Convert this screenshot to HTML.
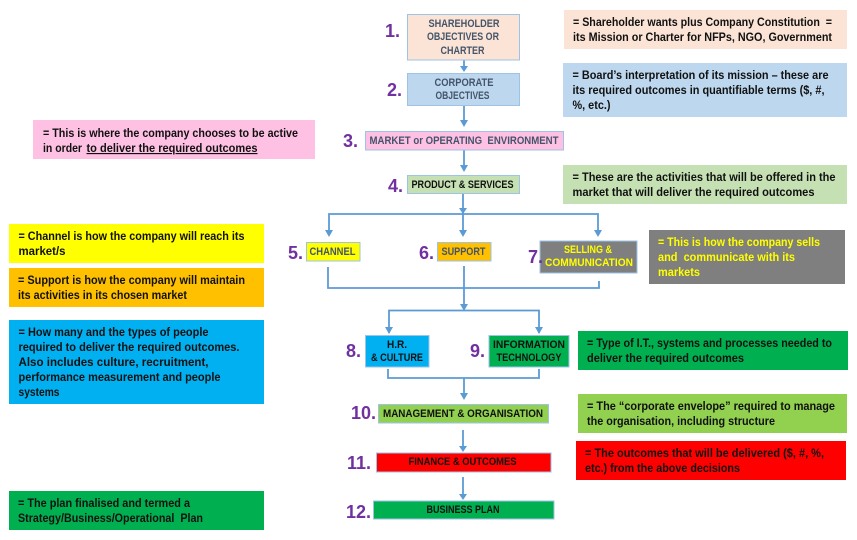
<!DOCTYPE html>
<html>
<head>
<meta charset="utf-8">
<style>
html,body{margin:0;padding:0;background:#fff;width:857px;height:540px;overflow:hidden}
svg{display:block;position:absolute;left:0;top:0;filter:blur(.3px)}
text{font-family:"Liberation Sans",sans-serif;font-weight:700}
.n text{font-size:11.5px;fill:#111}
.b text{font-size:11px;fill:#44546a}
.d text{font-size:11px;fill:#111}
.num text{font-size:18px;fill:#7030a0}
.n.y text,.b.y text{fill:#ffff00}
.c{fill:none;stroke:#5b9bd5;stroke-width:1.8}
.a{fill:#5b9bd5}
</style>
</head>
<body>
<svg width="857" height="540" viewBox="0 0 857 540" xmlns="http://www.w3.org/2000/svg">
<rect width="857" height="540" fill="#fff"/>

<!-- connectors -->
<g class="c">
<path d="M464 60V67M464 105V122M464 150V167"/>
<path d="M463 193V231M329 231V214H598V231"/>
<path d="M328 267V288H599V281M464 266V305"/>
<path d="M389 333V310.500H539V333"/>
<path d="M388 369V378H539V369M464 378V394"/>
<path d="M463 430V447M463 477V495"/>
</g>
<g class="a">
<polygon points="460,66 468,66 464,72"/>
<polygon points="460,120 468,120 464,127"/>
<polygon points="460,165 468,165 464,172"/>
<polygon points="459,208 467,208 463,214"/>
<polygon points="325,230 333,230 329,237"/>
<polygon points="459,230 467,230 463,237"/>
<polygon points="594,230 602,230 598,237"/>
<polygon points="460,304 468,304 464,311"/>
<polygon points="385,327 393,327 389,334"/>
<polygon points="535,327 543,327 539,334"/>
<polygon points="460,393 468,393 464,400"/>
<polygon points="459,446 467,446 463,452"/>
<polygon points="459,494 467,494 463,500"/>
</g>

<!-- flow boxes -->
<g stroke="#9dc3e6" stroke-width="1">
<rect x="407.500" y="14.500" width="112" height="45.500" fill="#fbe4d5"/>
<rect x="407.500" y="73.500" width="112" height="32" fill="#bdd7ee"/>
<rect x="365.500" y="131.500" width="198" height="18.500" fill="#ffc1e3"/>
<rect x="407.500" y="175.500" width="112" height="18" fill="#c5e0b3"/>
<rect x="306.500" y="242.500" width="53.500" height="18.500" fill="#ffff00"/>
<rect x="437.500" y="242.500" width="53.500" height="18.500" fill="#ffc000"/>
<rect x="540" y="241" width="97" height="32" fill="#7f7f7f"/>
<rect x="365.500" y="335.500" width="63.500" height="31.500" fill="#00b0f0"/>
<rect x="489" y="335.500" width="80" height="31.500" fill="#00b050"/>
<rect x="378.500" y="404.500" width="170" height="18.500" fill="#92d050"/>
<rect x="376.500" y="453" width="174.500" height="19" fill="#ff0000"/>
<rect x="373.500" y="501" width="180.500" height="18" fill="#00b050"/>
</g>

<!-- note boxes -->
<g stroke-width="1">
<rect x="564" y="10" width="283" height="39" fill="#fbe4d5"/>
<rect x="563" y="63" width="284" height="54" fill="#bdd7ee"/>
<rect x="563" y="165" width="284" height="39" fill="#c5e0b3"/>
<rect x="649" y="230" width="196" height="54" fill="#7f7f7f"/>
<rect x="578" y="331" width="270" height="39" fill="#00b050"/>
<rect x="578" y="394" width="269" height="39" fill="#92d050"/>
<rect x="576" y="441" width="270" height="39" fill="#ff0000"/>
<rect x="33" y="120" width="282" height="39" fill="#ffc1e3"/>
<rect x="9" y="224" width="255" height="39" fill="#ffff00"/>
<rect x="9" y="268" width="255" height="39" fill="#ffc000"/>
<rect x="9" y="320" width="255" height="84" fill="#00b0f0"/>
<rect x="9" y="491" width="255" height="39" fill="#00b050"/>
</g>

<!-- box labels -->
<g class="b">
<text x="428.500" y="27" textLength="71" lengthAdjust="spacingAndGlyphs">SHAREHOLDER</text>
<text x="427" y="40" textLength="72" lengthAdjust="spacingAndGlyphs">OBJECTIVES OR</text>
<text x="440.500" y="54" textLength="44" lengthAdjust="spacingAndGlyphs">CHARTER</text>
<text x="434.500" y="86" textLength="59" lengthAdjust="spacingAndGlyphs">CORPORATE</text>
<text x="435.500" y="99" textLength="54" lengthAdjust="spacingAndGlyphs">OBJECTIVES</text>
<text x="369.500" y="144" textLength="189" lengthAdjust="spacingAndGlyphs" xml:space="preserve">MARKET or OPERATING  ENVIRONMENT</text>
<text x="309.500" y="255" textLength="46" lengthAdjust="spacingAndGlyphs">CHANNEL</text>
<text x="441.500" y="255" textLength="44" lengthAdjust="spacingAndGlyphs">SUPPORT</text>
</g>
<g class="b y">
<text x="564" y="253" textLength="48" lengthAdjust="spacingAndGlyphs">SELLING &amp;</text>
<text x="545" y="266" textLength="88" lengthAdjust="spacingAndGlyphs">COMMUNICATION</text>
</g>
<g class="d">
<text x="411.500" y="188" textLength="102" lengthAdjust="spacingAndGlyphs">PRODUCT &amp; SERVICES</text>
<text x="387" y="348" textLength="20" lengthAdjust="spacingAndGlyphs">H.R.</text>
<text x="371" y="361" textLength="52" lengthAdjust="spacingAndGlyphs">&amp; CULTURE</text>
<text x="493" y="348" textLength="72" lengthAdjust="spacingAndGlyphs">INFORMATION</text>
<text x="496.500" y="361" textLength="65" lengthAdjust="spacingAndGlyphs">TECHNOLOGY</text>
<text x="383" y="417" textLength="160" lengthAdjust="spacingAndGlyphs">MANAGEMENT &amp; ORGANISATION</text>
<text x="408.500" y="465" textLength="108" lengthAdjust="spacingAndGlyphs">FINANCE &amp; OUTCOMES</text>
<text x="426.500" y="513" textLength="73" lengthAdjust="spacingAndGlyphs">BUSINESS PLAN</text>
</g>

<!-- numbers -->
<g class="num">
<text x="385" y="37">1.</text>
<text x="387" y="96">2.</text>
<text x="343" y="147">3.</text>
<text x="388" y="192">4.</text>
<text x="288" y="259">5.</text>
<text x="419" y="259">6.</text>
<text x="528" y="263">7.</text>
<text x="346" y="357">8.</text>
<text x="470" y="357">9.</text>
<text x="351" y="419">10.</text>
<text x="347" y="469">11.</text>
<text x="346" y="518">12.</text>
</g>

<!-- note text -->
<g class="n">
<text x="573" y="26" textLength="259" lengthAdjust="spacingAndGlyphs" xml:space="preserve">= Shareholder wants plus Company Constitution  =</text>
<text x="573" y="41" textLength="259" lengthAdjust="spacingAndGlyphs">its Mission or Charter for NFPs, NGO, Government</text>
<text x="572.500" y="79" textLength="256" lengthAdjust="spacingAndGlyphs">= Board’s interpretation of its mission – these are</text>
<text x="572.500" y="94" textLength="252" lengthAdjust="spacingAndGlyphs">its required outcomes in quantifiable terms ($, #,</text>
<text x="572.500" y="109" textLength="38" lengthAdjust="spacingAndGlyphs">%, etc.)</text>
<text x="572.500" y="181" textLength="263" lengthAdjust="spacingAndGlyphs">= These are the activities that will be offered in the</text>
<text x="572.500" y="196" textLength="242" lengthAdjust="spacingAndGlyphs">market that will deliver the required outcomes</text>
<text x="587" y="347" textLength="245" lengthAdjust="spacingAndGlyphs">= Type of I.T., systems and processes needed to</text>
<text x="587" y="362" textLength="157" lengthAdjust="spacingAndGlyphs">deliver the required outcomes</text>
<text x="587" y="410" textLength="248" lengthAdjust="spacingAndGlyphs">= The “corporate envelope” required to manage</text>
<text x="587" y="425" textLength="188" lengthAdjust="spacingAndGlyphs">the organisation, including structure</text>
<text x="585" y="457" textLength="239" lengthAdjust="spacingAndGlyphs">= The outcomes that will be delivered ($, #, %,</text>
<text x="585" y="472" textLength="155" lengthAdjust="spacingAndGlyphs">etc.) from the above decisions</text>
<text x="43" y="137" textLength="255" lengthAdjust="spacingAndGlyphs">= This is where the company chooses to be active</text>
<text x="43" y="152" textLength="39" lengthAdjust="spacingAndGlyphs">in order</text>
<text x="86.500" y="152" textLength="171" lengthAdjust="spacingAndGlyphs" text-decoration="underline">to deliver the required outcomes</text>
<text x="18.500" y="240" textLength="226" lengthAdjust="spacingAndGlyphs">= Channel is how the company will reach its</text>
<text x="18.500" y="255" textLength="47" lengthAdjust="spacingAndGlyphs">market/s</text>
<text x="18" y="284" textLength="227" lengthAdjust="spacingAndGlyphs">= Support is how the company will maintain</text>
<text x="18" y="299" textLength="169" lengthAdjust="spacingAndGlyphs">its activities in its chosen market</text>
<text x="18.500" y="336" textLength="190" lengthAdjust="spacingAndGlyphs">= How many and the types of people</text>
<text x="18.500" y="351" textLength="221" lengthAdjust="spacingAndGlyphs">required to deliver the required outcomes.</text>
<text x="18.500" y="366" textLength="190" lengthAdjust="spacingAndGlyphs">Also includes culture, recruitment,</text>
<text x="18.500" y="381" textLength="202" lengthAdjust="spacingAndGlyphs">performance measurement and people</text>
<text x="18.500" y="396" textLength="41" lengthAdjust="spacingAndGlyphs">systems</text>
<text x="18" y="507" textLength="172" lengthAdjust="spacingAndGlyphs">= The plan finalised and termed a</text>
<text x="18" y="522" textLength="185" lengthAdjust="spacingAndGlyphs" xml:space="preserve">Strategy/Business/Operational  Plan</text>
</g>
<g class="n y">
<text x="658" y="246" textLength="162" lengthAdjust="spacingAndGlyphs">= This is how the company sells</text>
<text x="658" y="261" textLength="137" lengthAdjust="spacingAndGlyphs" xml:space="preserve">and  communicate with its</text>
<text x="658" y="276" textLength="42" lengthAdjust="spacingAndGlyphs">markets</text>
</g>
</svg>
</body>
</html>
